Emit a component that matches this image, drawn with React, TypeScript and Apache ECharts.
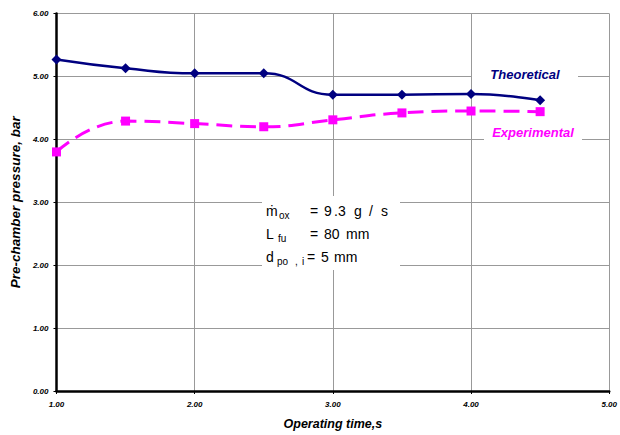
import React, { useEffect, useRef } from "react";
import * as echarts from "echarts";

const times = [1.0, 1.5, 2.0, 2.5, 3.0, 3.5, 4.0, 4.5];
const theoretical = [5.27, 5.13, 5.05, 5.05, 4.71, 4.71, 4.72, 4.62];
const experimental = [3.8, 4.29, 4.25, 4.2, 4.31, 4.42, 4.45, 4.44];
const seriesNames = ["Theoretical", "Experimental"];
const xTitle = "Operating time,s";
const yTitle = "Pre-chamber pressure, bar";

const FONT = "'Liberation Sans', Arial, sans-serif";

// annotation pieces: [text, x, lineY, isSubscript]
const notes: [string, number, number, boolean][] = [
  ["ṁ", 266, 211, false],
  ["ox", 279, 211, true],
  ["=", 310, 211, false],
  ["9", 324, 211, false],
  [".3", 334, 211, false],
  ["g", 354, 211, false],
  ["/", 369, 211, false],
  ["s", 381, 211, false],
  ["L", 266, 234, false],
  ["fu", 278, 234, true],
  ["=", 310, 234, false],
  ["80", 324, 234, false],
  ["mm", 346, 234, false],
  ["d", 266, 257, false],
  ["po", 277, 257, true],
  [",", 295, 257, true],
  ["i", 302, 257, true],
  ["=", 307, 257, false],
  ["5", 321, 257, false],
  ["mm", 334, 257, false],
];

export default function App() {
  const ref = useRef<HTMLDivElement>(null);
  useEffect(() => {
    if (!ref.current) return;
    const chart = echarts.init(ref.current, undefined, { renderer: "svg" });
    const pair = (xs: number[], ys: number[]) => xs.map((x, i) => [x, ys[i]]);
    const noteGraphics = notes.map(([t, x, y, sub]) => ({
      type: "text",
      z: 51,
      x,
      y: sub ? y + 4 : y,
      style: {
        text: t,
        fontFamily: FONT,
        fontSize: sub ? 10 : 14,
        fill: "#000",
        align: "left",
        verticalAlign: "middle",
      },
    }));
    chart.setOption({
      animation: false,
      backgroundColor: "#fff",
      grid: { left: 53, right: 6, top: 13.5, bottom: 43.5, containLabel: false },
      xAxis: {
        type: "value",
        min: 1,
        max: 5,
        interval: 1,
        name: xTitle,
        nameLocation: "middle",
        nameGap: 26,
        nameTextStyle: { fontFamily: FONT, fontSize: 12.5, fontWeight: "bold", fontStyle: "italic", color: "#000" },
        axisLine: { show: true, lineStyle: { color: "#000", width: 2.5 } },
        axisTick: { show: true, length: 3, lineStyle: { color: "#000", width: 1 } },
        axisLabel: {
          fontFamily: FONT, fontSize: 8, fontWeight: "bold", fontStyle: "italic", color: "#000",
          margin: 9, formatter: (v: number) => v.toFixed(2),
        },
        splitLine: { show: true, lineStyle: { color: "#999", width: 1 } },
      },
      yAxis: {
        type: "value",
        min: 0,
        max: 6,
        interval: 1,
        name: yTitle,
        nameLocation: "middle",
        nameGap: 28,
        nameTextStyle: { fontFamily: FONT, fontSize: 13.5, fontWeight: "bold", fontStyle: "italic", color: "#000" },
        axisLine: { show: true, lineStyle: { color: "#000", width: 2.5 } },
        axisTick: { show: true, length: 3, lineStyle: { color: "#000", width: 1 } },
        axisLabel: {
          fontFamily: FONT, fontSize: 8, fontWeight: "bold", fontStyle: "italic", color: "#000",
          margin: 8, formatter: (v: number) => v.toFixed(2),
        },
        splitLine: { show: true, lineStyle: { color: "#999", width: 1 } },
      },
      series: [
        {
          name: seriesNames[0],
          type: "line",
          data: pair(times, theoretical),
          smooth: 0.5,
          symbol: "diamond",
          symbolSize: 10,
          itemStyle: { color: "#000080" },
          lineStyle: { color: "#000080", width: 2.5 },
          z: 3,
        },
        {
          name: seriesNames[1],
          type: "line",
          data: pair(times, experimental),
          smooth: 0.5,
          symbol: "rect",
          symbolSize: 9,
          itemStyle: { color: "#ff00ff" },
          lineStyle: { color: "#ff00ff", width: 3, type: [16, 8] },
          z: 3,
        },
      ],
      graphic: [
        { type: "rect", z: 50, shape: { x: 472, y: 64, width: 106, height: 20 }, style: { fill: "#fff" } },
        {
          type: "text", z: 51, x: 525, y: 74,
          style: { text: seriesNames[0], fontFamily: FONT, fontSize: 13, fontWeight: "bold", fontStyle: "italic", fill: "#000080", align: "center", verticalAlign: "middle" },
        },
        { type: "rect", z: 50, shape: { x: 484, y: 122, width: 98, height: 20 }, style: { fill: "#fff" } },
        {
          type: "text", z: 51, x: 533, y: 132,
          style: { text: seriesNames[1], fontFamily: FONT, fontSize: 13, fontWeight: "bold", fontStyle: "italic", fill: "#ff00ff", align: "center", verticalAlign: "middle" },
        },
        { type: "rect", z: 50, shape: { x: 262, y: 196, width: 138, height: 74 }, style: { fill: "#fff" } },
        ...noteGraphics,
      ],
    });
    return () => chart.dispose();
  }, []);
  return <div ref={ref} style={{ width: 620, height: 435, position: "absolute", left: 0, top: 0 }} />;
}
